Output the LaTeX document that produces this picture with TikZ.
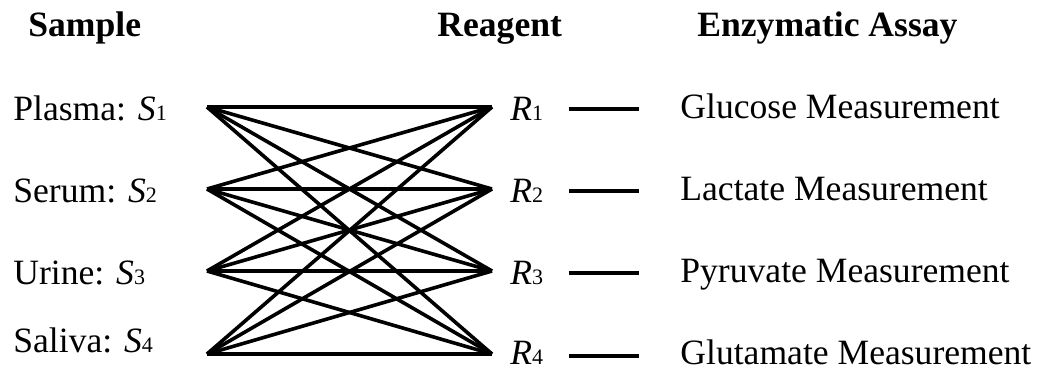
\documentclass[tikz,border=0pt]{standalone}
\usepackage{fontspec}
\setmainfont{Liberation Serif}
\usepackage{tikz}
\newcommand{\labsym}[2]{\textit{#1}{\fontsize{11}{11}\selectfont #2}}

\begin{document}
\begin{tikzpicture}[x=0.5pt,y=-0.5pt,
  font=\fontsize{17.8}{21}\selectfont,
  head/.style={anchor=base west,inner sep=0pt,font=\fontsize{17.8}{21}\selectfont\bfseries},
  label/.style={anchor=base west,inner sep=0pt},
  link/.style={line width=1.8pt},
  dashlink/.style={line width=1.8pt,shorten <=12.5pt,shorten >=20.5pt}
]
\useasboundingbox (0,0) rectangle (1041,370);

% Column headings.
\node[head] (hsample) at (28,36) {Sample};
\node[head] (hreagent) at (437,36) {Reagent};
\node[head] (hassay) at (697,36) {Enzymatic Assay};

% Samples on the left.
\node[label] (lab1) at (13,120) {Plasma: \labsym{S}{1}};
\node[label] (lab2) at (13,202) {Serum: \labsym{S}{2}};
\node[label] (lab3) at (13,284) {Urine: \labsym{S}{3}};
\node[label] (lab4) at (13,352) {Saliva: \labsym{S}{4}};

% Reagents and the assays they belong to.
\node[label] (rlab1) at (510,120) {\labsym{R}{1}};
\node[label] (rlab2) at (510,202) {\labsym{R}{2}};
\node[label] (rlab3) at (510,284) {\labsym{R}{3}};
\node[label] (rlab4) at (510,364) {\labsym{R}{4}};
\node[label] (assay1) at (680,118) {Glucose Measurement};
\node[label] (assay2) at (680,200) {Lactate Measurement};
\node[label] (assay3) at (680,282) {Pyruvate Measurement};
\node[label] (assay4) at (680,364) {Glutamate Measurement};

% Meeting points of the links.
\coordinate (s1) at (207,107);
\coordinate (s2) at (207,189);
\coordinate (s3) at (207,271);
\coordinate (s4) at (207,354);
\coordinate (r1) at (492,107);
\coordinate (r2) at (492,189);
\coordinate (r3) at (492,271);
\coordinate (r4) at (492,354);

% Every sample to every reagent.
\foreach \i in {1,...,4}
  \foreach \j in {1,...,4}
    \draw[link] (s\i) -- (r\j);

% Reagent to assay.
\foreach \i in {1,...,4}
  \draw[dashlink] ([yshift=-1pt]rlab\i.east |- r\i) -- ([yshift=-1pt]assay\i.west |- r\i);
\end{tikzpicture}
\end{document}
